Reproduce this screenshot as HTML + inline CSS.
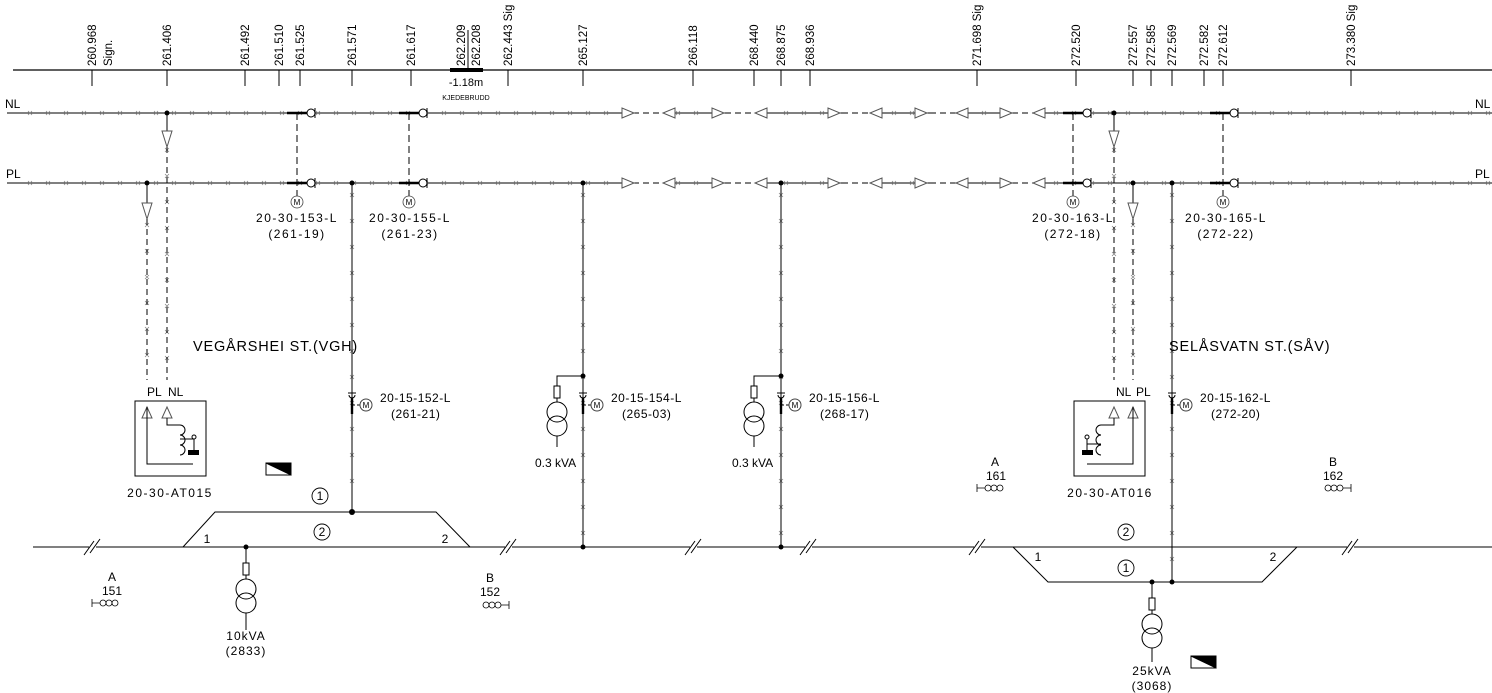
<!DOCTYPE html>
<html><head><meta charset="utf-8"><style>
html,body{margin:0;padding:0;background:#fff;width:1492px;height:693px;overflow:hidden}
svg{display:block}
text{font-family:"Liberation Sans",sans-serif;fill:#000}
.s{font-size:12px}
.w{letter-spacing:1.5px}
.n{letter-spacing:0.5px}
.v{font-size:11.5px}
</style></head><body>
<svg id="d" width="1492" height="693" viewBox="0 0 1492 693" xmlns="http://www.w3.org/2000/svg" stroke="#000" fill="none" stroke-width="1">
<line x1="13" y1="70" x2="1492" y2="70" stroke-width="1.2"/>
<g stroke-width="1">
<line x1="92" y1="70" x2="92" y2="86"/><line x1="167" y1="70" x2="167" y2="86"/><line x1="245" y1="70" x2="245" y2="86"/><line x1="279" y1="70" x2="279" y2="86"/><line x1="300" y1="70" x2="300" y2="86"/><line x1="352" y1="70" x2="352" y2="86"/><line x1="411" y1="70" x2="411" y2="86"/><line x1="508" y1="70" x2="508" y2="86"/><line x1="583" y1="70" x2="583" y2="86"/><line x1="693" y1="70" x2="693" y2="86"/><line x1="754" y1="70" x2="754" y2="86"/><line x1="781" y1="70" x2="781" y2="86"/><line x1="810" y1="70" x2="810" y2="86"/><line x1="977" y1="70" x2="977" y2="86"/><line x1="1076" y1="70" x2="1076" y2="86"/><line x1="1133" y1="70" x2="1133" y2="86"/><line x1="1151" y1="70" x2="1151" y2="86"/><line x1="1172" y1="70" x2="1172" y2="86"/><line x1="1204" y1="70" x2="1204" y2="86"/><line x1="1223" y1="70" x2="1223" y2="86"/><line x1="1351" y1="70" x2="1351" y2="86"/>
<line x1="468" y1="30" x2="468" y2="70"/>
</g>
<rect x="450" y="68" width="33" height="4" fill="#000" stroke="none"/>
<g stroke="none" class="v">
<text transform="translate(96,66) rotate(-90)">260.968</text>
<text transform="translate(112,66) rotate(-90)">Sign.</text>
<text transform="translate(171,66) rotate(-90)">261.406</text>
<text transform="translate(249,66) rotate(-90)">261.492</text>
<text transform="translate(283,66) rotate(-90)">261.510</text>
<text transform="translate(304,66) rotate(-90)">261.525</text>
<text transform="translate(356,66) rotate(-90)">261.571</text>
<text transform="translate(415,66) rotate(-90)">261.617</text>
<text transform="translate(465,66) rotate(-90)">262.209</text>
<text transform="translate(480,66) rotate(-90)">262.208</text>
<text transform="translate(512,66) rotate(-90)">262.443 Sig</text>
<text transform="translate(587,66) rotate(-90)">265.127</text>
<text transform="translate(697,66) rotate(-90)">266.118</text>
<text transform="translate(758,66) rotate(-90)">268.440</text>
<text transform="translate(785,66) rotate(-90)">268.875</text>
<text transform="translate(814,66) rotate(-90)">268.936</text>
<text transform="translate(981,66) rotate(-90)">271.698 Sig</text>
<text transform="translate(1080,66) rotate(-90)">272.520</text>
<text transform="translate(1137,66) rotate(-90)">272.557</text>
<text transform="translate(1155,66) rotate(-90)">272.585</text>
<text transform="translate(1176,66) rotate(-90)">272.569</text>
<text transform="translate(1208,66) rotate(-90)">272.582</text>
<text transform="translate(1227,66) rotate(-90)">272.612</text>
<text transform="translate(1355,66) rotate(-90)">273.380 Sig</text>
<text x="466" y="86" text-anchor="middle" font-size="11">-1.18m</text>
<text x="466" y="100" text-anchor="middle" font-size="7">KJEDEBRUDD</text>
<text x="5" y="108" class="s">NL</text>
<text x="1475" y="108" class="s">NL</text>
<text x="6" y="178" class="s">PL</text>
<text x="1475" y="178" class="s">PL</text>
</g>
<g id="lines"></g>
<g id="marks" stroke="#888" stroke-width="0.8"></g>
<g id="sym"></g>

<line x1="167" y1="113" x2="167" y2="131"/>
<path d="M162,131 L172,131 L167,147 Z" stroke="#555"/>
<line x1="167" y1="147" x2="167" y2="380" stroke-dasharray="6,4"/>
<line x1="147" y1="183" x2="147" y2="203"/>
<path d="M142,203 L152,203 L147,219 Z" stroke="#555"/>
<line x1="147" y1="219" x2="147" y2="380" stroke-dasharray="6,4"/>
<line x1="1114" y1="113" x2="1114" y2="131"/>
<path d="M1109,131 L1119,131 L1114,147 Z" stroke="#555"/>
<line x1="1114" y1="147" x2="1114" y2="380" stroke-dasharray="6,4"/>
<line x1="1133" y1="183" x2="1133" y2="203"/>
<path d="M1128,203 L1138,203 L1133,219 Z" stroke="#555"/>
<line x1="1133" y1="219" x2="1133" y2="380" stroke-dasharray="6,4"/>

<g stroke-dasharray="7,4">
<line x1="297" y1="113" x2="297" y2="196"/><line x1="409" y1="113" x2="409" y2="196"/>
<line x1="1073" y1="113" x2="1073" y2="196"/><line x1="1223" y1="113" x2="1223" y2="196"/>
</g>
<g stroke="#444" stroke-width="0.8">
<circle cx="297" cy="202" r="6"/><circle cx="409" cy="202" r="6"/><circle cx="1073" cy="202" r="6"/><circle cx="1223" cy="202" r="6"/>
</g>
<g stroke="none" font-size="8" text-anchor="middle">
<text x="297" y="205">M</text><text x="409" y="205">M</text><text x="1073" y="205">M</text><text x="1223" y="205">M</text>
</g>
<g stroke="none" class="s w" text-anchor="middle">
<text x="297" y="222">20-30-153-L</text><text x="297" y="238">(261-19)</text>
<text x="410" y="222">20-30-155-L</text><text x="410" y="238">(261-23)</text>
<text x="1073" y="222">20-30-163-L</text><text x="1073" y="238">(272-18)</text>
<text x="1226" y="222">20-30-165-L</text><text x="1226" y="238">(272-22)</text>
</g>

<line x1="352" y1="183" x2="352" y2="512"/>
<line x1="583" y1="183" x2="583" y2="547"/>
<line x1="781" y1="183" x2="781" y2="547"/>
<line x1="1172" y1="183" x2="1172" y2="582"/>
<g fill="#000" stroke="none">
<circle cx="167" cy="113" r="2.5"/><circle cx="1114" cy="113" r="2.5"/>
<circle cx="147" cy="183" r="2.5"/><circle cx="352" cy="183" r="2.5"/><circle cx="583" cy="183" r="2.5"/><circle cx="781" cy="183" r="2.5"/><circle cx="1133" cy="183" r="2.5"/><circle cx="1172" cy="183" r="2.5"/>
<circle cx="352" cy="512" r="3"/><circle cx="246" cy="547" r="2.5"/><circle cx="583" cy="547" r="2.5"/><circle cx="781" cy="547" r="2.5"/>
<circle cx="583" cy="376" r="2.5"/><circle cx="781" cy="376" r="2.5"/><circle cx="1152" cy="582" r="2.5"/><circle cx="1172" cy="582" r="2.5"/>
</g>
<g id="disc"></g>

<g stroke="none" class="s">
<text x="193" y="351" font-size="14.5" letter-spacing="0.8">VEGÅRSHEI ST.(VGH)</text>
<text x="1169" y="351" font-size="14.5" letter-spacing="0.8">SELÅSVATN ST.(SÅV)</text>
<text x="380" y="402" class="n">20-15-152-L</text><text x="391" y="418" class="n">(261-21)</text>
<text x="611" y="402" class="n">20-15-154-L</text><text x="622" y="418" class="n">(265-03)</text>
<text x="809" y="402" class="n">20-15-156-L</text><text x="820" y="418" class="n">(268-17)</text>
<text x="1200" y="402" class="n">20-15-162-L</text><text x="1211" y="418" class="n">(272-20)</text>
<text x="535" y="467">0.3 kVA</text><text x="732" y="467">0.3 kVA</text>
</g>

<rect x="135" y="401" width="71" height="75"/>
<text x="147" y="396" class="s" stroke="none">PL</text><text x="168" y="396" class="s" stroke="none">NL</text>
<path d="M142,418 L152,418 L147,407 Z M162,418 L172,418 L167,407 Z" stroke="#555"/>
<path d="M147,407 L147,464 L193,464 M167,418 L167,425 L180,425"/>
<path d="M180,425 a5,5 0 0 1 0,10 a5,5 0 0 1 0,10 a5,5 0 0 1 0,10"/>
<path d="M180,439 L194,439 L194,450"/><circle cx="194" cy="437" r="2"/>
<rect x="188" y="450" width="11" height="5" fill="#000" stroke="none"/>
<text x="170" y="497" text-anchor="middle" class="s w" stroke="none">20-30-AT015</text>

<rect x="1074" y="401" width="71" height="75"/>
<text x="1116" y="396" class="s" stroke="none">NL</text><text x="1136" y="396" class="s" stroke="none">PL</text>
<path d="M1109,418 L1119,418 L1114,407 Z M1128,418 L1138,418 L1133,407 Z" stroke="#555"/>
<path d="M1133,407 L1133,464 L1087,464 M1114,418 L1114,425 L1101,425"/>
<path d="M1101,425 a5,5 0 0 0 0,10 a5,5 0 0 0 0,10 a5,5 0 0 0 0,10"/>
<path d="M1101,444 L1087,444 L1087,450"/><circle cx="1087" cy="437" r="2"/><line x1="1087" y1="439" x2="1087" y2="444"/>
<rect x="1082" y="450" width="11" height="5" fill="#000" stroke="none"/>
<text x="1110" y="497" text-anchor="middle" class="s w" stroke="none">20-30-AT016</text>

<rect x="266" y="463" width="25" height="12"/><path d="M266,463 L291,463 L291,475 Z" fill="#000"/>
<rect x="1191" y="656" width="25" height="12"/><path d="M1191,656 L1216,656 L1216,668 Z" fill="#000"/>

<line x1="33" y1="547" x2="1492" y2="547"/>
<path d="M183,547 L215,512 L436,512 L470,547"/>
<path d="M1013,547 L1048,582 L1262,582 L1297,547"/>
<g id="breaks"></g>
<g stroke-width="0.9">
<circle cx="320" cy="496" r="8"/><circle cx="322" cy="532" r="8"/>
<circle cx="1126" cy="532" r="8"/><circle cx="1126" cy="568" r="8"/>
</g>
<g stroke="none" class="s" text-anchor="middle">
<text x="320" y="500">1</text><text x="322" y="536">2</text>
<text x="1126" y="536">2</text><text x="1126" y="572">1</text>
<text x="207" y="543">1</text><text x="445" y="543">2</text>
<text x="1038" y="561">1</text><text x="1273" y="561">2</text>
<text x="112" y="581">A</text><text x="112" y="595">151</text>
<text x="490" y="582">B</text><text x="490" y="596">152</text>
<text x="995" y="466">A</text><text x="996" y="480">161</text>
<text x="1333" y="466">B</text><text x="1333" y="480">162</text>
<text x="246" y="640" letter-spacing="1">10kVA</text><text x="246" y="655" letter-spacing="1">(2833)</text>
<text x="1152" y="675" letter-spacing="1">25kVA</text><text x="1152" y="690" letter-spacing="1">(3068)</text>
</g>
<g stroke-width="0.8">
<path d="M92,599 L92,607 M92,603 L100,603"/><circle cx="103" cy="603" r="3"/><circle cx="109" cy="603" r="3"/><circle cx="115" cy="603" r="3"/>
<path d="M509,601 L509,609 M501,605 L509,605"/><circle cx="486" cy="605" r="3"/><circle cx="492" cy="605" r="3"/><circle cx="498" cy="605" r="3"/>
<path d="M977,484 L977,492 M977,488 L985,488"/><circle cx="988" cy="488" r="3"/><circle cx="994" cy="488" r="3"/><circle cx="1000" cy="488" r="3"/>
<path d="M1351,484 L1351,492 M1343,488 L1351,488"/><circle cx="1328" cy="488" r="3"/><circle cx="1334" cy="488" r="3"/><circle cx="1340" cy="488" r="3"/>
</g>
<g id="tr"></g>
<path d="M583,376 L557,376 L557,386 M781,376 L754,376 L754,386"/>
</svg>
<script>
(function(){
var NS="http://www.w3.org/2000/svg";
function el(p,t,a){var e=document.createElementNS(NS,t);for(var k in a)e.setAttribute(k,a[k]);document.getElementById(p).appendChild(e);return e;}
var dash=[[633,663],[725,755],[842,870],[930,956],[1002,1033]];
var tri=[[622,'r'],[663,'l'],[712,'r'],[755,'l'],[828,'r'],[870,'l'],[915,'r'],[956,'l'],[1000,'r'],[1033,'l']];
[113,183].forEach(function(y){
  var x0=7;
  dash.forEach(function(d){el('lines','line',{x1:x0,y1:y,x2:d[0],y2:y});el('lines','line',{x1:d[0],y1:y,x2:d[1],y2:y,'stroke-dasharray':'6,4'});x0=d[1];});
  el('lines','line',{x1:x0,y1:y,x2:1492,y2:y});
  tri.forEach(function(t){var x=t[0];var p=t[1]=='r'?'M'+x+','+(y-5)+' L'+x+','+(y+5)+' L'+(x+12)+','+y+' Z':'M'+(x+12)+','+(y-5)+' L'+(x+12)+','+(y+5)+' L'+x+','+y+' Z';el('sym','path',{d:p,stroke:'#555',fill:'#fff'});});
  for(var x=30;x<1490;x+=18){var sk=false;dash.forEach(function(d){if(x>d[0]-14&&x<d[1]+14)sk=true;});if(sk)continue;
    el('marks','path',{d:'M'+(x-2)+','+(y-2)+' L'+(x+2)+','+(y+2)+' M'+(x-2)+','+(y+2)+' L'+(x+2)+','+(y-2)});}
  [287,399,1063,1210].forEach(function(x){
    el('sym','line',{x1:x,y1:y,x2:x+20,y2:y,'stroke-width':2.4});
    el('sym','circle',{cx:x+24,cy:y,r:4,fill:'#fff'});
    el('sym','line',{x1:x+28,y1:y-5,x2:x+28,y2:y+5});});
});
[[352,195,505],[583,195,540],[781,195,540],[1172,195,575],[167,150,375],[147,225,375],[1114,150,375],[1133,225,375]].forEach(function(v){
  for(var y=v[1];y<v[2];y+=26){var x=v[0];el('marks','path',{d:'M'+(x-2)+','+(y-2)+' L'+(x+2)+','+(y+2)+' M'+(x-2)+','+(y+2)+' L'+(x+2)+','+(y-2)});}
});
[352,583,781,1172].forEach(function(x){
  el('disc','path',{d:'M'+(x-4)+',393 L'+(x+4)+',393 M'+(x-3)+',395 a3,3 0 0 0 6,0'});
  el('disc','line',{x1:x,y1:398,x2:x,y2:414,'stroke-width':2.4});
  el('disc','line',{x1:x,y1:405,x2:x+8,y2:405,'stroke-dasharray':'3,2'});
  el('disc','circle',{cx:x+14,cy:405,r:6,stroke:'#444'});
  var t=el('disc','text',{x:x+14,y:408,'font-size':8,'text-anchor':'middle',stroke:'none'});t.textContent='M';
});
[92,508,693,808,977,1350].forEach(function(x){
 el('breaks','line',{x1:x-3,y1:547,x2:x+4,y2:547,stroke:'#fff','stroke-width':3});
 el('breaks','path',{d:'M'+(x-8)+',555 L'+(x+2)+',541 M'+(x-2)+',553 L'+(x+8)+',539',fill:'none'});});
function tr(x,y0,top,bot){
  el('tr','line',{x1:x,y1:y0,x2:x,y2:top});
  el('tr','rect',{x:x-3,y:top,width:6,height:12,fill:'#fff'});
  el('tr','line',{x1:x,y1:top+12,x2:x,y2:top+16});
  el('tr','circle',{cx:x,cy:top+26,r:10});
  el('tr','circle',{cx:x,cy:top+40,r:10});
  el('tr','line',{x1:x,y1:top+50,x2:x,y2:bot});
}
tr(246,547,563,630);
tr(1152,582,598,662);
tr(557,386,386,447);
tr(754,386,386,447);
})();
</script>
</body></html>
